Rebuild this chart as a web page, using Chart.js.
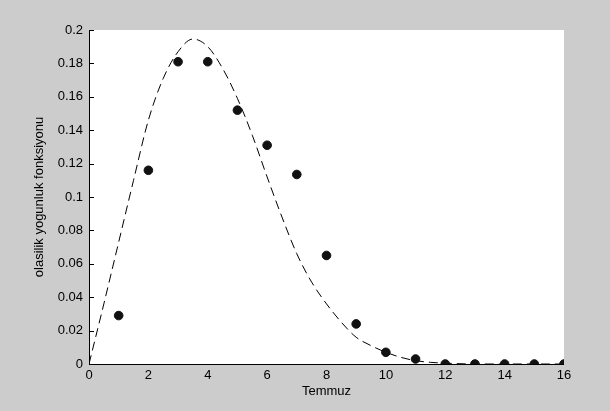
<!DOCTYPE html>
<html>
<head>
<meta charset="utf-8">
<script src="https://cdn.jsdelivr.net/npm/chart.js@4"></script>
<style>
  html, body { margin: 0; padding: 0; background: #cccccc; }
  #wrap { width: 610px; height: 411px; }
</style>
</head>
<body>
<div id="wrap"><canvas id="pdfChart" width="610" height="411"></canvas></div>
<script>
// observed monthly values (dots)
const months = [1, 2, 3, 4, 5, 6, 7, 8, 9, 10, 11, 12, 13, 14, 15, 16];
const observed = [0.029, 0.116, 0.181, 0.181, 0.152, 0.131, 0.1135, 0.065, 0.024, 0.007, 0.003, 0, 0, 0, 0, 0];

// fitted density (dashed line)
const fitX = [0, 0.5, 1, 1.5, 2, 2.5, 3, 3.5, 4, 4.5, 5, 5.5, 6, 6.5, 7, 7.5, 8, 8.5, 9, 9.5, 10, 10.5, 11, 11.5, 12, 13, 14, 15, 16];
const fitY = [0, 0.036, 0.073, 0.11, 0.146, 0.171, 0.187, 0.1946, 0.19, 0.177, 0.159, 0.137, 0.112, 0.088, 0.066, 0.049, 0.036, 0.025, 0.016, 0.011, 0.007, 0.004, 0.002, 0.001, 0.0005, 0, 0, 0, 0];

const xTicks = [0, 2, 4, 6, 8, 10, 12, 14, 16];
const yTicks = [0, 0.02, 0.04, 0.06, 0.08, 0.1, 0.12, 0.14, 0.16, 0.18, 0.2];

const toPts = (xs, ys) => xs.map((x, i) => ({ x: x, y: ys[i] }));

// white plot box + inward ticks on the left axis, like matlab
const plotBox = {
    id: "plotBox",
    beforeDraw(chart) {
        const { ctx, chartArea: a } = chart;
        ctx.save();
        ctx.fillStyle = "#cccccc";
        ctx.fillRect(0, 0, chart.width, chart.height);
        ctx.fillStyle = "#ffffff";
        ctx.fillRect(a.left, a.top, a.right - a.left, a.bottom - a.top);
        ctx.restore();
    },
    afterDraw(chart) {
        const { ctx, chartArea: a } = chart;
        const ys = chart.scales.y;
        ctx.save();
        ctx.strokeStyle = "#000";
        ctx.lineWidth = 1;
        ctx.beginPath();
        ctx.moveTo(a.left + 0.5, a.top);
        ctx.lineTo(a.left + 0.5, a.bottom + 0.5);
        ctx.lineTo(a.right, a.bottom + 0.5);
        yTicks.forEach((v) => {
            const py = Math.round(ys.getPixelForValue(v)) + 0.5;
            ctx.moveTo(a.left, py);
            ctx.lineTo(a.left + 5, py);
        });
        ctx.stroke();
        ctx.restore();
    }
};

const font = { family: "'Liberation Sans', Arial, sans-serif", size: 13 };

var ctxPdf = document.getElementById("pdfChart").getContext("2d");
var pdfChart = new Chart(ctxPdf, {
    type: "scatter",
    data: {
        datasets: [{
            data: toPts(months, observed),
            backgroundColor: "#111",
            borderColor: "#111",
            pointRadius: 4.3,
            pointHoverRadius: 4.3,
            order: 0,
        }, {
            data: toPts(fitX, fitY),
            showLine: true,
            borderColor: "#000",
            borderWidth: 1,
            borderDash: [9, 5],
            pointRadius: 0,
            tension: 0.4,
            cubicInterpolationMode: "monotone",
            order: 1,
        }],
    },
    options: {
        responsive: false,
        animation: false,
        layout: { padding: { left: 0, top: 30, right: 46, bottom: 0 } },
        plugins: {
            legend: { display: false },
            tooltip: { enabled: false }
        },
        scales: {
            x: {
                type: "linear",
                min: 0,
                max: 16,
                afterBuildTicks: (s) => { s.ticks = xTicks.map((v) => ({ value: v })); },
                afterFit: (s) => { s.height = 47; },
                border: { display: false },
                grid: { display: false, drawTicks: false },
                ticks: { color: "#000", font: font, padding: 4 },
                title: { display: true, text: "Temmuz", color: "#000", font: font, padding: { top: 0, bottom: 12 } }
            },
            y: {
                type: "linear",
                min: 0,
                max: 0.2,
                afterBuildTicks: (s) => { s.ticks = yTicks.map((v) => ({ value: v })); },
                afterFit: (s) => { s.width = 89; },
                border: { display: false },
                grid: { display: false, drawTicks: false },
                ticks: {
                    color: "#000",
                    font: font,
                    padding: 6,
                    callback: (v) => String(+Number(v).toFixed(2))
                },
                title: { display: true, text: "olasilik yogunluk fonksiyonu", color: "#000", font: font, padding: { top: 32, bottom: 0 } }
            }
        }
    },
    plugins: [plotBox]
});
</script>
</body>
</html>
